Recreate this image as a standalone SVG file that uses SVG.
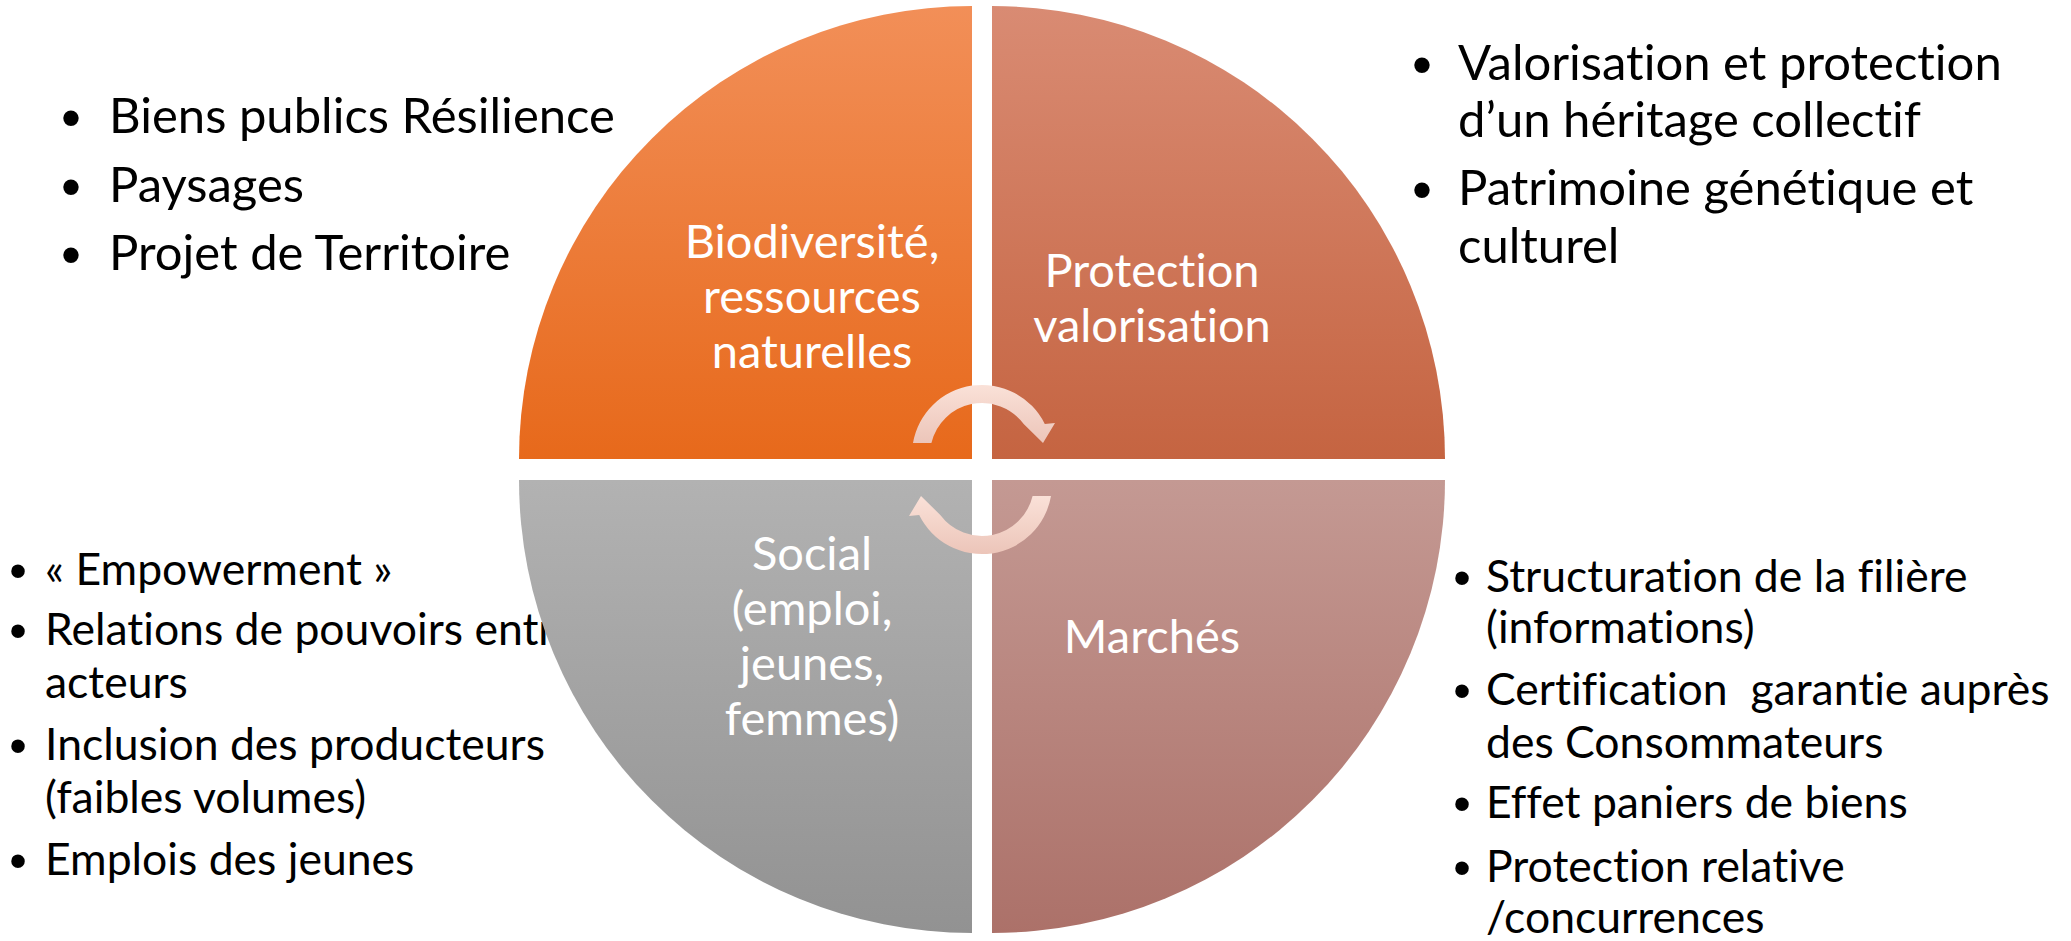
<svg xmlns="http://www.w3.org/2000/svg" width="2071" height="941" viewBox="0 0 2071 941">
  <style>
    text { font-variant-ligatures: none; font-feature-settings: "liga" 0, "clig" 0; }
    .list { font-family: Lato, "Open Sans", "Liberation Sans", sans-serif; fill: #000000; }
    .big { font-size: 49px; }
    .small { font-size: 44.5px; }
    .bul { font-family: "Liberation Sans", Arial, sans-serif; text-anchor: middle; }
    .big .bul { font-size: 57px; }
    .small .bul { font-size: 50px; }
    .lab { font-family: Lato, "Open Sans", "Liberation Sans", sans-serif; font-size: 47px; fill: #FFFFFF; text-anchor: middle; }
  </style>
  <defs>
    <linearGradient id="gTL" x1="0" y1="0" x2="0" y2="1">
      <stop offset="0" stop-color="#F28F58"/>
      <stop offset="1" stop-color="#E7691B"/>
    </linearGradient>
    <linearGradient id="gTR" x1="0" y1="0" x2="0" y2="1">
      <stop offset="0" stop-color="#D98B73"/>
      <stop offset="1" stop-color="#C56441"/>
    </linearGradient>
    <linearGradient id="gBL" x1="0" y1="0" x2="0" y2="1">
      <stop offset="0" stop-color="#B2B2B2"/>
      <stop offset="1" stop-color="#929292"/>
    </linearGradient>
    <linearGradient id="gBR" x1="0" y1="0" x2="0" y2="1">
      <stop offset="0" stop-color="#C49993"/>
      <stop offset="1" stop-color="#AC7169"/>
    </linearGradient>
    <linearGradient id="gArr" x1="0" y1="0" x2="0" y2="1">
      <stop offset="0" stop-color="#FAE1D8"/>
      <stop offset="1" stop-color="#ECC5B9"/>
    </linearGradient>
  </defs>
  <rect x="0" y="0" width="2071" height="941" fill="#FFFFFF"/>

  <g id="list-top-left" class="list big">
    <text class="bul" x="71" y="137">•</text>
    <text x="109" y="133">Biens publics Résilience</text>
    <text class="bul" x="71" y="205.7">•</text>
    <text x="109" y="201.7">Paysages</text>
    <text class="bul" x="71" y="274">•</text>
    <text x="109" y="270">Projet de Territoire</text>
  </g>

  <g id="list-top-right" class="list big">
    <text class="bul" x="1422" y="84">•</text>
    <text x="1458" y="80">Valorisation et protection</text>
    <text x="1458" y="137">d’un héritage collectif</text>
    <text class="bul" x="1422" y="209">•</text>
    <text x="1458" y="205">Patrimoine génétique et</text>
    <text x="1458" y="263">culturel</text>
  </g>

  <g id="list-bottom-left" class="list small">
    <text class="bul" x="18" y="588">•</text>
    <text x="45" y="585">« Empowerment »</text>
    <text class="bul" x="18" y="648">•</text>
    <text x="45" y="645">Relations de pouvoirs entr</text>
    <text x="45" y="698">acteurs</text>
    <text class="bul" x="18" y="763">•</text>
    <text x="45" y="760">Inclusion des producteurs</text>
    <text x="45" y="813">(faibles volumes)</text>
    <text class="bul" x="18" y="878">•</text>
    <text x="45" y="875">Emplois des jeunes</text>
  </g>

  <g id="list-bottom-right" class="list small">
    <text class="bul" x="1462" y="595">•</text>
    <text x="1486" y="592">Structuration de la filière</text>
    <text x="1486" y="643">(informations)</text>
    <text class="bul" x="1462" y="708">•</text>
    <text x="1486" y="705" xml:space="preserve" style="white-space:pre">Certification  garantie auprès</text>
    <text x="1486" y="758">des Consommateurs</text>
    <text class="bul" x="1462" y="821">•</text>
    <text x="1486" y="818">Effet paniers de biens</text>
    <text class="bul" x="1462" y="885">•</text>
    <text x="1486" y="882">Protection relative</text>
    <text x="1486" y="933">/concurrences</text>
  </g>

  <g id="q-biodiversite">
    <path d="M972,459 L519,459 A453,453 0 0 1 972,6 Z" fill="url(#gTL)"/>
    <text class="lab" x="812" y="258">Biodiversité,</text>
    <text class="lab" x="812" y="313">ressources</text>
    <text class="lab" x="812" y="368">naturelles</text>
  </g>

  <g id="q-protection">
    <path d="M992,459 L992,6 A453,453 0 0 1 1445,459 Z" fill="url(#gTR)"/>
    <text class="lab" x="1152" y="287">Protection</text>
    <text class="lab" x="1152" y="342">valorisation</text>
  </g>

  <g id="q-social">
    <path d="M972,480 L972,933 A453,453 0 0 1 519,480 Z" fill="url(#gBL)"/>
    <text class="lab" x="812" y="570">Social</text>
    <text class="lab" x="812" y="625">(emploi,</text>
    <text class="lab" x="812" y="680">jeunes,</text>
    <text class="lab" x="812" y="735">femmes)</text>
  </g>

  <g id="q-marches">
    <path d="M992,480 L1445,480 A453,453 0 0 1 992,933 Z" fill="url(#gBR)"/>
    <text class="lab" x="1152" y="653">Marchés</text>
  </g>

  <g id="connectors">
    <path d="M913,443 A70,70 0 0 1 1044.8,424 L1055,423 L1043,443 L1023.7,424 A52,52 0 0 0 931.4,443 Z" fill="url(#gArr)"/>
    <path d="M1051,496 A70,70 0 0 1 919.2,515 L909,516 L921,496 L940.3,515 A52,52 0 0 0 1032.6,496 Z" fill="url(#gArr)"/>
  </g>
</svg>
